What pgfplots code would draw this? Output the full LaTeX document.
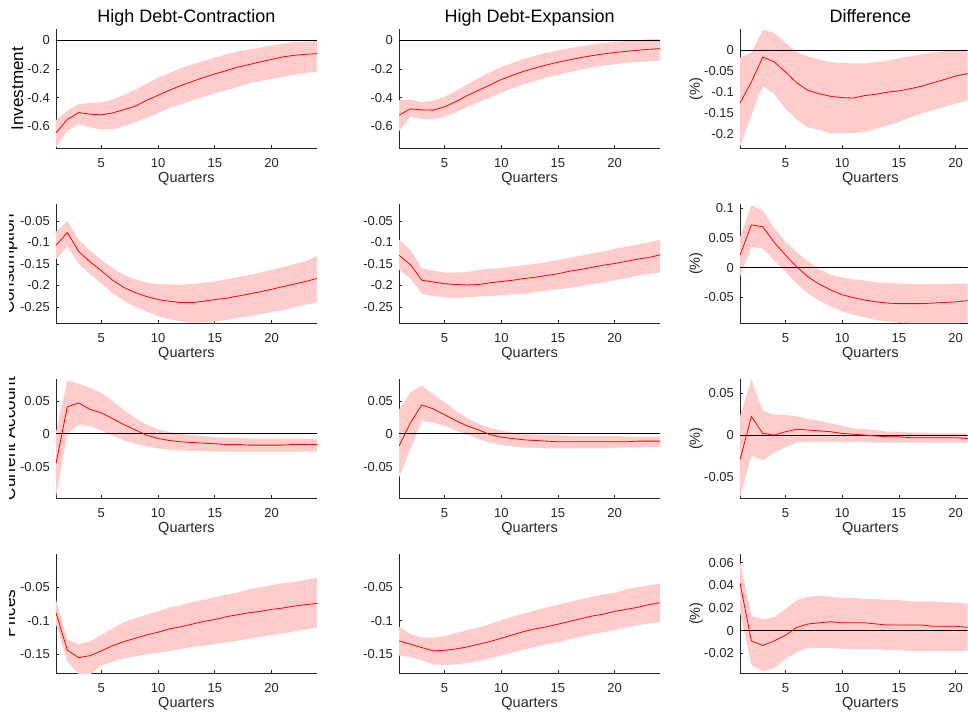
\documentclass[border=0pt]{standalone}
\usepackage{fontspec}
\setmainfont{Liberation Sans}
\usepackage{pgfplots}
\usepackage{pgfplotstable}
\pgfplotsset{compat=1.18}
\usepgfplotslibrary{fillbetween}
\definecolor{bandcol}{rgb}{1,0.8,0.8}
\definecolor{axgray}{rgb}{0.15,0.15,0.15}
\newcommand{\ticksize}{\fontsize{13}{15}\selectfont}
\newcommand{\labsize}{\fontsize{14.5}{17}\selectfont}
\newcommand{\titsize}{\fontsize{18}{21}\selectfont}
\newcommand{\rowsize}{\fontsize{17}{20}\selectfont}

\pgfplotstableread{
x m u l
1 -0.647 -0.558 -0.749
2 -0.553 -0.493 -0.633
3 -0.505 -0.447 -0.586
4 -0.516 -0.437 -0.609
5 -0.521 -0.433 -0.623
6 -0.507 -0.414 -0.623
7 -0.484 -0.381 -0.600
8 -0.460 -0.344 -0.572
9 -0.419 -0.302 -0.540
10 -0.384 -0.260 -0.507
11 -0.349 -0.228 -0.474
12 -0.316 -0.195 -0.447
13 -0.288 -0.167 -0.419
14 -0.260 -0.144 -0.395
15 -0.235 -0.121 -0.372
16 -0.212 -0.098 -0.349
17 -0.188 -0.079 -0.326
18 -0.170 -0.065 -0.302
19 -0.151 -0.051 -0.284
20 -0.133 -0.037 -0.270
21 -0.116 -0.023 -0.256
22 -0.105 -0.014 -0.242
23 -0.098 -0.009 -0.228
24 -0.093 -0.005 -0.219
}\tA
\pgfplotstableread{
x m u l
1 -0.523 -0.419 -0.633
2 -0.479 -0.414 -0.535
3 -0.486 -0.433 -0.549
4 -0.488 -0.423 -0.553
5 -0.465 -0.395 -0.535
6 -0.428 -0.353 -0.502
7 -0.386 -0.307 -0.465
8 -0.349 -0.265 -0.433
9 -0.312 -0.223 -0.400
10 -0.274 -0.186 -0.367
11 -0.244 -0.158 -0.335
12 -0.216 -0.130 -0.307
13 -0.193 -0.107 -0.284
14 -0.172 -0.086 -0.260
15 -0.153 -0.070 -0.242
16 -0.137 -0.056 -0.223
17 -0.121 -0.042 -0.205
18 -0.107 -0.030 -0.191
19 -0.095 -0.019 -0.177
20 -0.086 -0.012 -0.167
21 -0.077 -0.002 -0.158
22 -0.070 0.002 -0.151
23 -0.063 0.007 -0.147
24 -0.058 0.009 -0.142
}\tB
\pgfplotstableread{
x m u l
1 -0.126 -0.018 -0.230
2 -0.076 -0.007 -0.155
3 -0.017 0.047 -0.086
4 -0.028 0.041 -0.104
5 -0.052 0.017 -0.139
6 -0.078 -0.005 -0.165
7 -0.096 -0.015 -0.184
8 -0.104 -0.023 -0.190
9 -0.110 -0.029 -0.198
10 -0.113 -0.031 -0.198
11 -0.114 -0.032 -0.197
12 -0.108 -0.032 -0.194
13 -0.105 -0.029 -0.187
14 -0.100 -0.025 -0.179
15 -0.097 -0.020 -0.171
16 -0.092 -0.015 -0.160
17 -0.086 -0.010 -0.151
18 -0.078 -0.006 -0.143
19 -0.070 -0.003 -0.135
20 -0.062 -0.001 -0.127
21 -0.056 -0.001 -0.121
22 -0.051 0.000 -0.116
}\tC
\pgfplotstableread{
x m u l
1 -0.107 -0.075 -0.139
2 -0.077 -0.051 -0.110
3 -0.121 -0.094 -0.149
4 -0.145 -0.119 -0.174
5 -0.166 -0.141 -0.195
6 -0.188 -0.160 -0.219
7 -0.205 -0.176 -0.236
8 -0.217 -0.186 -0.250
9 -0.226 -0.194 -0.261
10 -0.233 -0.197 -0.272
11 -0.237 -0.198 -0.279
12 -0.240 -0.198 -0.284
13 -0.240 -0.197 -0.287
14 -0.237 -0.194 -0.287
15 -0.233 -0.191 -0.284
16 -0.230 -0.186 -0.281
17 -0.225 -0.181 -0.276
18 -0.220 -0.176 -0.272
19 -0.215 -0.170 -0.267
20 -0.209 -0.164 -0.262
21 -0.203 -0.158 -0.258
22 -0.197 -0.150 -0.251
23 -0.191 -0.144 -0.245
24 -0.184 -0.132 -0.240
}\tD
\pgfplotstableread{
x m u l
1 -0.130 -0.094 -0.164
2 -0.152 -0.118 -0.184
3 -0.188 -0.160 -0.220
4 -0.192 -0.166 -0.225
5 -0.196 -0.170 -0.228
6 -0.198 -0.170 -0.229
7 -0.199 -0.169 -0.228
8 -0.198 -0.164 -0.226
9 -0.194 -0.161 -0.225
10 -0.191 -0.160 -0.223
11 -0.188 -0.156 -0.221
12 -0.184 -0.153 -0.219
13 -0.181 -0.150 -0.216
14 -0.177 -0.146 -0.212
15 -0.173 -0.141 -0.209
16 -0.167 -0.136 -0.206
17 -0.163 -0.131 -0.202
18 -0.158 -0.125 -0.197
19 -0.153 -0.121 -0.193
20 -0.149 -0.115 -0.188
21 -0.144 -0.110 -0.183
22 -0.139 -0.105 -0.178
23 -0.135 -0.100 -0.174
24 -0.129 -0.094 -0.170
}\tE
\pgfplotstableread{
x m u l
1 0.021 0.051 -0.015
2 0.072 0.105 0.035
3 0.069 0.096 0.032
4 0.043 0.067 0.012
5 0.021 0.043 -0.007
6 0.001 0.026 -0.027
7 -0.016 0.010 -0.044
8 -0.028 -0.003 -0.056
9 -0.038 -0.012 -0.066
10 -0.046 -0.017 -0.074
11 -0.051 -0.020 -0.080
12 -0.055 -0.022 -0.084
13 -0.058 -0.025 -0.089
14 -0.060 -0.026 -0.091
15 -0.061 -0.027 -0.093
16 -0.061 -0.028 -0.094
17 -0.061 -0.028 -0.094
18 -0.060 -0.028 -0.094
19 -0.059 -0.028 -0.094
20 -0.058 -0.027 -0.094
21 -0.056 -0.027 -0.093
22 -0.055 -0.027 -0.092
}\tF
\pgfplotstableread{
x m u l
1 -0.045 0.002 -0.096
2 0.041 0.081 0.000
3 0.047 0.076 0.014
4 0.037 0.070 0.012
5 0.032 0.062 0.005
6 0.023 0.050 -0.003
7 0.014 0.036 -0.010
8 0.006 0.024 -0.015
9 -0.002 0.014 -0.019
10 -0.007 0.007 -0.022
11 -0.010 0.003 -0.024
12 -0.012 0.000 -0.025
13 -0.013 -0.002 -0.026
14 -0.014 -0.003 -0.026
15 -0.015 -0.005 -0.027
16 -0.016 -0.006 -0.027
17 -0.016 -0.006 -0.027
18 -0.017 -0.007 -0.027
19 -0.017 -0.007 -0.027
20 -0.017 -0.007 -0.027
21 -0.017 -0.007 -0.027
22 -0.016 -0.007 -0.027
23 -0.016 -0.007 -0.027
24 -0.016 -0.008 -0.027
}\tG
\pgfplotstableread{
x m u l
1 -0.018 0.037 -0.066
2 0.017 0.063 -0.023
3 0.044 0.073 0.020
4 0.038 0.060 0.017
5 0.029 0.048 0.012
6 0.020 0.035 0.005
7 0.012 0.024 -0.001
8 0.006 0.015 -0.008
9 -0.001 0.009 -0.013
10 -0.005 0.005 -0.017
11 -0.007 0.002 -0.019
12 -0.009 0.000 -0.021
13 -0.010 -0.001 -0.021
14 -0.011 -0.002 -0.022
15 -0.012 -0.002 -0.022
16 -0.012 -0.003 -0.022
17 -0.012 -0.003 -0.022
18 -0.012 -0.003 -0.022
19 -0.012 -0.003 -0.022
20 -0.012 -0.003 -0.021
21 -0.012 -0.004 -0.021
22 -0.011 -0.004 -0.021
23 -0.011 -0.004 -0.020
24 -0.011 -0.004 -0.020
}\tH
\pgfplotstableread{
x m u l
1 -0.029 0.022 -0.074
2 0.022 0.066 -0.024
3 0.002 0.029 -0.030
4 0.000 0.024 -0.021
5 0.004 0.024 -0.014
6 0.007 0.022 -0.009
7 0.006 0.019 -0.008
8 0.005 0.017 -0.008
9 0.004 0.014 -0.008
10 0.002 0.011 -0.008
11 0.001 0.008 -0.008
12 0.000 0.007 -0.008
13 -0.001 0.006 -0.009
14 -0.002 0.004 -0.009
15 -0.002 0.004 -0.009
16 -0.003 0.003 -0.009
17 -0.003 0.003 -0.009
18 -0.003 0.002 -0.009
19 -0.003 0.002 -0.009
20 -0.003 0.002 -0.009
21 -0.004 0.002 -0.009
22 -0.004 0.002 -0.009
}\tI
\pgfplotstableread{
x m u l
1 -0.088 -0.069 -0.105
2 -0.144 -0.128 -0.160
3 -0.155 -0.135 -0.180
4 -0.152 -0.131 -0.180
5 -0.145 -0.121 -0.167
6 -0.137 -0.111 -0.161
7 -0.131 -0.102 -0.156
8 -0.126 -0.096 -0.153
9 -0.121 -0.091 -0.150
10 -0.117 -0.086 -0.148
11 -0.112 -0.080 -0.145
12 -0.109 -0.077 -0.142
13 -0.105 -0.072 -0.139
14 -0.101 -0.069 -0.137
15 -0.098 -0.065 -0.135
16 -0.094 -0.061 -0.132
17 -0.091 -0.058 -0.130
18 -0.088 -0.053 -0.127
19 -0.086 -0.050 -0.124
20 -0.083 -0.047 -0.121
21 -0.081 -0.044 -0.119
22 -0.078 -0.042 -0.116
23 -0.076 -0.039 -0.113
24 -0.074 -0.036 -0.110
}\tJ
\pgfplotstableread{
x m u l
1 -0.130 -0.109 -0.152
2 -0.135 -0.120 -0.154
3 -0.140 -0.125 -0.159
4 -0.145 -0.125 -0.165
5 -0.144 -0.123 -0.166
6 -0.142 -0.118 -0.165
7 -0.139 -0.114 -0.163
8 -0.135 -0.110 -0.160
9 -0.131 -0.105 -0.156
10 -0.126 -0.099 -0.152
11 -0.121 -0.094 -0.147
12 -0.116 -0.089 -0.143
13 -0.112 -0.085 -0.139
14 -0.109 -0.080 -0.135
15 -0.105 -0.076 -0.132
16 -0.101 -0.072 -0.128
17 -0.097 -0.068 -0.124
18 -0.093 -0.064 -0.120
19 -0.090 -0.061 -0.117
20 -0.086 -0.058 -0.114
21 -0.083 -0.053 -0.110
22 -0.080 -0.050 -0.107
23 -0.076 -0.047 -0.104
24 -0.073 -0.045 -0.102
}\tK
\pgfplotstableread{
x m u l
1 0.042 0.061 0.016
2 -0.009 0.013 -0.030
3 -0.013 0.010 -0.036
4 -0.009 0.012 -0.033
5 -0.004 0.019 -0.025
6 0.003 0.027 -0.019
7 0.006 0.030 -0.015
8 0.007 0.031 -0.015
9 0.008 0.030 -0.015
10 0.007 0.029 -0.016
11 0.007 0.029 -0.016
12 0.007 0.028 -0.016
13 0.006 0.028 -0.016
14 0.005 0.027 -0.017
15 0.005 0.027 -0.017
16 0.005 0.026 -0.018
17 0.005 0.026 -0.018
18 0.004 0.026 -0.018
19 0.004 0.025 -0.018
20 0.004 0.025 -0.018
21 0.003 0.024 -0.018
22 0.003 0.024 -0.018
}\tL

\pgfplotsset{
  irf/.style={
    scale only axis, width=261pt, height=119pt,
    xmin=1, xmax=24, xtick={5,10,15,20},
    axis x line*=bottom, axis y line*=left,
    tick align=inside, major tick length=3pt,
    axis line style={axgray, line width=0.7pt},
    tick style={axgray, line width=0.7pt},
    tick label style={font=\ticksize, text=axgray, inner sep=0pt},
    xticklabel style={anchor=base, yshift=-19pt},
    yticklabel style={anchor=east, xshift=-6pt},
    scaled y ticks=false,
    yticklabel style={/pgf/number format/fixed, /pgf/number format/assume math mode=true},
    xticklabel style={/pgf/number format/assume math mode=true},
    xlabel={Quarters},
    every axis x label/.style={font=\labsize, text=axgray, at={(axis description cs:0.5,0)}, anchor=base, yshift=-34pt, inner sep=0pt},
    every axis title/.style={font=\titsize, at={(axis description cs:0.5,1)}, anchor=base, yshift=7pt, inner sep=0pt},
  },
  c1/.style={irf, ylabel style={font=\rowsize, text=black, at={(axis description cs:#1,0.5)}, anchor=base, inner sep=0pt, overlay}},
  c3/.style={irf, width=227.7pt, xmax=21.06,
    title style={at={(axis description cs:0.5727,1)}},
    xlabel style={at={(axis description cs:0.5727,0)}},
    ylabel={(\%)}, ylabel style={font=\labsize, text=axgray, at={(axis description cs:-0.177,0.5)}, anchor=base, inner sep=0pt}},
}
\newcommand{\band}[1]{%
  \addplot[name path=U, draw=none, forget plot] table[x=x,y=u]{#1};
  \addplot[name path=L, draw=none, forget plot] table[x=x,y=l]{#1};
  \addplot[bandcol, draw=none, forget plot] fill between[of=U and L];
}
\newcommand{\mline}[1]{\addplot[red, line width=0.8pt] table[x=x,y=m]{#1};}
\newcommand{\zline}{\addplot[black, line width=0.8pt, forget plot] coordinates {(1,0) (24,0)};}

\begin{document}
\begin{tikzpicture}
\path (0,0) rectangle (968pt,712pt);
% ---------- Row 1 ----------
\begin{axis}[c1=-0.1264, at={(56pt,563.7pt)}, anchor=south west,
  ymin=-0.754, ymax=0.077, ytick={-0.6,-0.4,-0.2,0},
  ylabel={Investment}, title={High Debt-Contraction}]
\band{\tA}\zline\mline{\tA}
\end{axis}
\begin{axis}[irf, at={(399.3pt,563.7pt)}, anchor=south west,
  ymin=-0.754, ymax=0.077, ytick={-0.6,-0.4,-0.2,0},
  title={High Debt-Expansion}]
\band{\tB}\zline\mline{\tB}
\end{axis}
\begin{axis}[c3, at={(740.3pt,563.7pt)}, anchor=south west,
  ymin=-0.233, ymax=0.049, ytick={-0.2,-0.15,-0.1,-0.05,0},
  title={Difference}]
\band{\tC}\zline\mline{\tC}
\end{axis}
% ---------- Row 2 ----------
\begin{axis}[c1=-0.1609, at={(56pt,388.7pt)}, anchor=south west,
  ymin=-0.288, ymax=-0.011, ytick={-0.25,-0.2,-0.15,-0.1,-0.05},
  ylabel={Consumption}]
\band{\tD}\mline{\tD}
\end{axis}
\begin{axis}[irf, at={(399.3pt,388.7pt)}, anchor=south west,
  ymin=-0.288, ymax=-0.011, ytick={-0.25,-0.2,-0.15,-0.1,-0.05}]
\band{\tE}\mline{\tE}
\end{axis}
\begin{axis}[c3, at={(740.3pt,388.7pt)}, anchor=south west,
  ymin=-0.094, ymax=0.107, ytick={-0.05,0,0.05,0.1}]
\band{\tF}\zline\mline{\tF}
\end{axis}
% ---------- Row 3 ----------
\begin{axis}[c1=-0.157, at={(56pt,213.7pt)}, anchor=south west,
  ymin=-0.0974, ymax=0.083, ytick={-0.05,0,0.05},
  ylabel={Current Account}]
\band{\tG}\zline\mline{\tG}
\end{axis}
\begin{axis}[irf, at={(399.3pt,213.7pt)}, anchor=south west,
  ymin=-0.0974, ymax=0.083, ytick={-0.05,0,0.05}]
\band{\tH}\zline\mline{\tH}
\end{axis}
\begin{axis}[c3, at={(740.3pt,213.7pt)}, anchor=south west,
  ymin=-0.0745, ymax=0.0662, ytick={-0.05,0,0.05}]
\band{\tI}\zline\mline{\tI}
\end{axis}
% ---------- Row 4 ----------
\begin{axis}[c1=-0.157, at={(56pt,38.7pt)}, anchor=south west,
  ymin=-0.178, ymax=-0.0005, ytick={-0.15,-0.1,-0.05},
  ylabel={Prices}]
\band{\tJ}\mline{\tJ}
\end{axis}
\begin{axis}[irf, at={(399.3pt,38.7pt)}, anchor=south west,
  ymin=-0.178, ymax=-0.0005, ytick={-0.15,-0.1,-0.05}]
\band{\tK}\mline{\tK}
\end{axis}
\begin{axis}[c3, at={(740.3pt,38.7pt)}, anchor=south west,
  ymin=-0.0373, ymax=0.0676, ytick={-0.02,0,0.02,0.04,0.06}]
\band{\tL}\zline\mline{\tL}
\end{axis}
% the reference figure is cropped at its left edge
\fill[white, overlay] (-30pt,0pt) rectangle (9.3pt,530pt);
\end{tikzpicture}
\end{document}
